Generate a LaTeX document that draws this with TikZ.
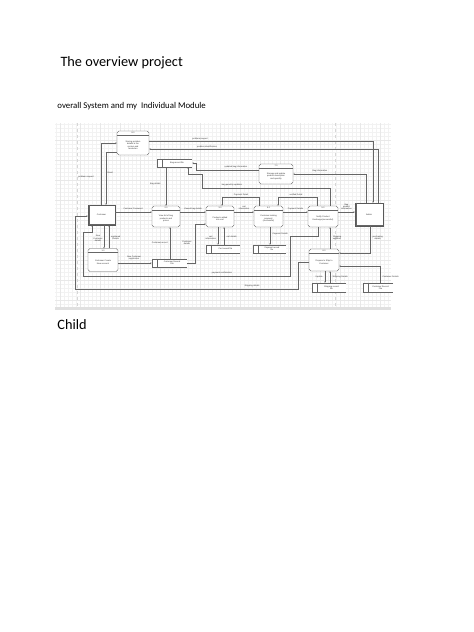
\documentclass[tikz,border=0pt]{standalone}
\usepackage{fontspec}
\setmainfont{Carlito}
\newfontfamily\dfont{Liberation Sans}
\usetikzlibrary{arrows.meta}
\begin{document}
\begin{tikzpicture}[x=1pt,y=-1pt,
  line/.style={draw=black!60, line width=0.3pt},
  arr/.style={line, -{Stealth[length=1.5pt,width=1.3pt]}},
  lbl/.style={font=\dfont\fontsize{2.1}{2.4}\selectfont, text=black!80, inner sep=0.3pt, align=center},
  procshape/.style={draw=black!65, line width=0.35pt, rounded corners=1.8pt, fill=white, inner sep=0},
  entity/.style={draw=black!65, line width=0.35pt, fill=white, inner sep=0},
  pagetext/.style={inner sep=0, anchor=base west}
]
\useasboundingbox (0,0) rectangle (474,632);
\fill[white] (0,0) rectangle (474,632);

% page texts
\node[pagetext, font=\fontsize{14.3}{17}\selectfont] (title) at (60.3,66.8) {The overview project};
\node[pagetext, font=\fontsize{8.8}{10.5}\selectfont] (subtitle) at (57.2,108.5) {overall System and my\ \ Individual Module};
\node[pagetext, font=\fontsize{14.3}{17}\selectfont] (child) at (57.2,329) {Child};

% grid background
\draw[black!5, line width=0.2pt, step=4pt] (55,307) grid (391,123);
\draw[black!9, line width=0.25pt, step=20pt] (55,307) grid (391,123);
\draw[black!16, dashed, line width=0.3pt] (77,123) -- (77,307);
\draw[black!16, dashed, line width=0.3pt] (335,123) -- (335,307);
\fill[black!12] (55,306.5) rectangle (391,309.5);

\newcommand\procbox[7]{%
 \node[procshape, minimum width=#4pt, minimum height=#5pt] (#1) at (#2,#3) {};
 \draw[line] ([yshift=-4.2pt]#1.north west) -- ([yshift=-4.2pt]#1.north east);
 \node[lbl] (#1n) at ([yshift=-2.1pt]#1.north) {#6};
 \node[lbl] (#1t) at ([yshift=-2.1pt]#1.center) {#7};
}
\newcommand\dstore[6]{%
 \node[inner sep=0, minimum width=#4pt, minimum height=#5pt] (#1) at (#2,#3) {};
 \fill[white] (#1.north west) rectangle (#1.south east);
 \draw[line] (#1.north east) -- (#1.north west) -- (#1.south west) -- (#1.south east);
 \draw[line] ([xshift=5pt]#1.north west) -- ([xshift=5pt]#1.south west);
 \node[lbl] (#1t) at ([xshift=2.5pt]#1.center) {#6};
}
\newcommand\entbox[6]{%
 \node[entity, minimum width=#4pt, minimum height=#5pt] (#1) at (#2,#3) {};
 \draw[line] ([xshift=1pt,yshift=-0.2pt]#1.north west) -- ([xshift=1pt,yshift=1pt]#1.south west) -- ([xshift=-0.2pt,yshift=1pt]#1.south east);
 \node[lbl] (#1t) at (#1.center) {#6};
}

% processes
\procbox{p8}{133}{143}{32}{24}{8.0}{Storing problem\\details in the\\system and\\resolution}
\procbox{p7}{276}{174}{34}{20}{7.0}{Storage and update\\product description\\and quantity}
\procbox{p2}{166}{216.5}{28}{21}{2.0}{View list of bag\\products and\\prices}
\procbox{p3}{220}{216.5}{28}{21}{3.0}{Products added\\into cart}
\procbox{p4}{268.5}{216.5}{29}{21}{4.0}{Customer making\\payment\\(successful)}
\procbox{p5}{323}{216.5}{30}{21}{5.0}{Notify Product\\Exchange(successful)}
\procbox{p1}{103}{260}{30}{23}{1.0}{Customer Create\\New account}
\procbox{p6}{324}{260}{30}{22}{6.0}{Prepare to Ship to\\Customer}

% entities
\entbox{cust}{101.5}{215}{27}{20}{Customer}
\entbox{admin}{369}{214.5}{28}{23}{Admin}

% data stores
\dstore{bagf}{174.5}{163}{35}{8}{Bag record file}
\dstore{custf}{169.5}{263}{35}{8}{Customer Record\\File}
\dstore{cartf}{223}{249}{34}{8}{Cart record file}
\dstore{payf}{269.5}{249}{33}{8}{Payment record\\file}
\dstore{shipf}{329}{287.5}{34}{9}{Shipping record\\file}
\dstore{custf2}{378}{287.5}{30}{9}{Customer Record\\File}

% connectors
\draw[arr] ([xshift=-0.5pt]cust.north) |- (p8.west);
\node[lbl] (l1) at (86,177) {problem request};
\draw[arr] ([yshift=-9pt]p8.west) -| ([xshift=4.5pt]cust.north);
\node[lbl, anchor=west] (l2) at (107,173) {Email};
\draw[arr] ([yshift=2pt]p8.east) -| ([xshift=4pt]admin.north);
\node[lbl, anchor=south] (l3) at (200,140) {problem request};
\draw[arr] ([xshift=9pt]admin.north) |- ([yshift=-6pt]p8.east);
\node[lbl, anchor=south] (l4) at (207,148) {problem identification};
\draw[arr] ([xshift=-3pt]admin.north) |- (p7.east);
\node[lbl, anchor=south] (l5) at (320,172.5) {Bag information};
\draw[arr] ([yshift=4pt]p7.west) -| (196,163) -- (bagf.east);
\node[lbl, anchor=south] (l6) at (236,168.5) {updated bag information};
\draw[arr] ([xshift=7pt]p5.north) |- (202,188) |- (188,174) -- ([xshift=13.5pt]bagf.south);
\node[lbl, anchor=south] (l7) at (232,186.5) {bag quantity updation};
\draw[arr] ([xshift=-8.5pt]bagf.south) -- (p2.north);
\node[lbl, anchor=east] (l8) at (161,184) {Bag details};
\draw[arr] ([yshift=3pt]cust.east) -- ([yshift=4.5pt]p2.west);
\node[lbl, anchor=south] (l9) at (133,210.5) {Customer Password};
\draw[arr] ([yshift=4.5pt]p2.east) -- ([yshift=4.5pt]p3.west);
\node[lbl, anchor=south] (l10) at (193,210.5) {Viewed bag details};
\draw[arr] ([yshift=4.5pt]p3.east) -- ([yshift=4.5pt]p4.west);
\node[lbl, anchor=south] (l11) at (244,210.5) {cart\\information};
\draw[arr] ([yshift=4.5pt]p4.east) -- ([yshift=4.5pt]p5.west);
\node[lbl, anchor=south] (l12) at (295.5,210.5) {Payment Details};
\draw[arr] ([yshift=4.5pt]p5.east) -- ([yshift=2.5pt]admin.west);
\node[lbl, anchor=south] (l13) at (346.5,210.5) {Bag\\product\\information};
\draw[arr] ([xshift=-9.5pt]p4.north) |- (222,197) -- ([xshift=2pt]p3.north);
\node[lbl, anchor=south] (l14) at (241,196) {Payment Detail};
\draw[arr] ([xshift=-6pt]p5.north) |- (278,197) -- ([xshift=9.5pt]p4.north);
\node[lbl, anchor=south] (l15) at (296,196) {verified Detail};
\draw[arr] ([xshift=0.5pt]custf.north) -- ([xshift=4pt]p2.south);
\node[lbl, anchor=east] (l16) at (168,243) {Customer record};
\draw[arr] (custf.east) -| (195,224) -- ([yshift=-7.5pt]p3.west);
\node[lbl, anchor=east] (l17) at (192,243) {Customer\\details};
\draw[arr] ([xshift=-2pt]p3.south) -- ([xshift=-5pt]cartf.north);
\node[lbl, anchor=east] (l18) at (216.5,238) {cart\\information};
\draw[arr] ([xshift=1pt]cartf.north) -- ([xshift=4pt]p3.south);
\node[lbl, anchor=west] (l19) at (226,237) {cart details};
\draw[arr] ([xshift=1.5pt]p4.south) -- ([xshift=0.5pt]payf.north);
\node[lbl, anchor=west] (l20) at (272,234) {Payment Details};
\draw[arr] ([xshift=6pt]p6.north) -- ([xshift=7pt]p5.south);
\node[lbl, anchor=west] (l21) at (332.5,238) {Shipping\\updation};
\draw[arr] ([xshift=1pt]admin.south) |- ([yshift=7pt]p6.east);
\node[lbl, anchor=west] (l22) at (372,238) {purchasing\\details};
\draw[arr] ([xshift=2pt]custf2.north) |- ([yshift=-6pt]p6.east);
\node[lbl, anchor=west] (l23) at (382,277) {Customer Details};
\draw[arr] ([xshift=1pt]p6.south) -- ([xshift=-4pt]shipf.north);
\node[lbl, anchor=east] (l24) at (323,277) {Update};
\draw[arr] ([xshift=1pt]shipf.north) -- ([xshift=6pt]p6.south);
\node[lbl, anchor=west] (l25) at (332,277) {Shipping Details};
\draw[arr] ([yshift=-2pt]p6.west) -| (298,289) -| (75,216) -- ([yshift=-1pt]cust.west);
\node[lbl, anchor=south] (l26) at (252,287.5) {Shipping details};
\draw[arr] ([xshift=-5pt]p5.south) |- (290,236) |- (83,276) |- (92,232) -- ([xshift=-9.5pt]cust.south);
\node[lbl, anchor=south] (l27) at (222,274.5) {payment confirmation};
\draw[arr] ([xshift=2.5pt]cust.south) -- ([xshift=1pt]p1.north);
\node[lbl] (l28) at (98,238.5) {New\\Customer\\details};
\draw[arr] ([xshift=6pt]p1.north) -- ([xshift=7.5pt]cust.south);
\node[lbl, anchor=west] (l29) at (110.5,238) {registered\\Details};
\draw[arr] ([yshift=-3pt]p1.east) -- (custf.west);
\node[lbl, anchor=south] (l30) at (134,260.5) {New Customer\\registration};
\end{tikzpicture}
\end{document}
